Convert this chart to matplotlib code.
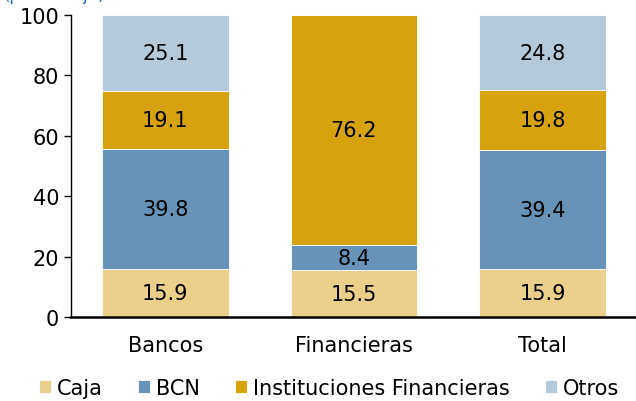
import matplotlib.pyplot as plt
import numpy as np

categories = ["Bancos", "Financieras", "Total"]
series_names = ["Caja", "BCN", "Instituciones Financieras", "Otros"]
caja = [15.9, 15.5, 15.9]
bcn = [39.8, 8.4, 39.4]
inst = [19.1, 76.2, 19.8]
otros = [25.1, 0.0, 24.8]
colors = ["#EBD08C", "#6793B9", "#D6A20E", "#B4C9DA"]


def main():
    fig = plt.figure(figsize=(6.36, 4.02), dpi=100)
    ax = fig.add_axes([0.1116, 0.209, 0.89, 0.751])

    x = np.arange(len(categories))
    bottom = np.zeros(len(categories))
    for name, vals, col in zip(series_names, [caja, bcn, inst, otros], colors):
        vals = np.array(vals)
        ax.bar(x, vals, width=0.67, bottom=bottom, color=col, label=name,
               edgecolor="white", linewidth=0.6)
        for xi, v, b in zip(x, vals, bottom):
            if v > 0:
                ax.text(xi, b + v / 2, f"{v:.1f}", ha="center", va="center",
                        fontsize=15, color="black")
        bottom += vals

    ax.set_xlim(-0.5, 2.5)
    ax.set_ylim(0, 100)
    ax.set_yticks([0, 20, 40, 60, 80, 100])
    ax.tick_params(axis="y", labelsize=15, length=5, width=1, direction="out")
    ax.tick_params(axis="x", labelsize=15, length=0, pad=13)
    ax.set_xticks(x)
    ax.set_xticklabels(categories)
    for s in ["top", "right"]:
        ax.spines[s].set_visible(False)
    ax.spines["bottom"].set_linewidth(1.8)
    ax.spines["left"].set_linewidth(1)

    # cut-off subtitle at the top of the image
    fig.text(0.005, 1.012, "(porcentaje)", color="#1F6FB5", fontsize=12,
             ha="left", va="center")

    ax.legend(loc="center", bbox_to_anchor=(0.456, -0.235), ncol=4, frameon=False,
              fontsize=15, handlelength=0.55, handleheight=0.55, handletextpad=0.3,
              columnspacing=1.7)

    fig.savefig("out.png", dpi=100)


if __name__ == "__main__":
    main()
